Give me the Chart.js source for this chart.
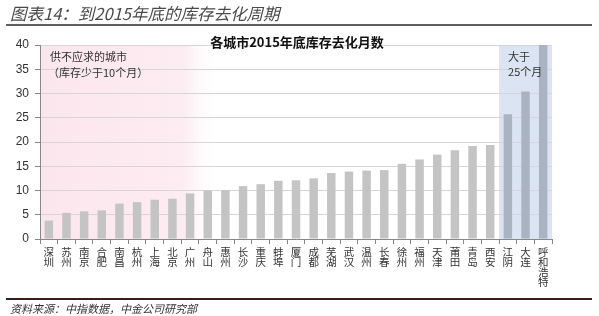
<!DOCTYPE html>
<html><head><meta charset="utf-8">
<script src="https://cdn.jsdelivr.net/npm/chart.js@4"></script>
<style>html,body{margin:0;padding:0;background:#fff;}#wrap{width:599px;height:316px;}</style>
</head><body><div id="wrap"><canvas id="c" width="599" height="316"></canvas></div>
<script>
const cities = ["深圳","苏州","南京","合肥","南昌","杭州","上海","北京","广州","舟山","惠州","长沙","重庆","蚌埠","厦门","成都","芜湖","武汉","温州","长春","徐州","福州","天津","莆田","青岛","西安","江阴","大连","呼和浩特"];
const months = [3.8,5.4,5.7,5.9,7.3,7.6,8.1,8.3,9.4,10.0,10.1,10.9,11.3,12.0,12.1,12.5,13.6,13.9,14.1,14.2,15.5,16.4,17.4,18.3,19.2,19.4,25.7,30.4,40.0];
const yTicks = [0,5,10,15,20,25,30,35,40];
const header = "图表14：到2015年底的库存去化周期";
const chartTitle = "各城市2015年底库存去化月数";
const source = "资料来源：中指数据，中金公司研究部";
const noteLow = ["供不应求的城市","（库存少于10个月）"];
const noteHigh = ["大于","25个月"];
const highStart = 26;
const lowEnd = 9;

const CJK = '"Noto Sans CJK SC", sans-serif';
const barColors = months.map((v,i)=> i>=highStart ? '#aab3c2' : '#c4c4c4');

const deco = {
  id:'deco',
  beforeDraw(chart){
    const {ctx, chartArea:a, scales:{x}} = chart;
    ctx.save();
    const pEnd = x.getPixelForValue(lowEnd) + 12;
    const g = ctx.createLinearGradient(a.left,0,pEnd,0);
    g.addColorStop(0,'rgba(252,230,237,1)');
    g.addColorStop(0.8,'rgba(252,234,240,0.9)');
    g.addColorStop(1,'rgba(255,255,255,0)');
    ctx.fillStyle = g;
    ctx.fillRect(a.left, a.top, pEnd - a.left, a.bottom - a.top);
    const half = (x.getPixelForValue(1)-x.getPixelForValue(0))/2;
    const bStart = x.getPixelForValue(highStart) - half;
    ctx.fillStyle = 'rgb(219,228,243)';
    ctx.fillRect(bStart, a.top, a.right - bStart, a.bottom - a.top);
    ctx.restore();
  },
  afterDraw(chart){
    const {ctx, chartArea:a, scales:{x}} = chart;
    ctx.save();
    ctx.fillStyle = '#4a4a4a';
    ctx.font = 'italic 16.5px ' + CJK;
    ctx.textBaseline = 'middle';
    ctx.textAlign = 'left';
    ctx.fillText(header, 10, 14);
    ctx.strokeStyle = '#2b2b2b';
    ctx.lineWidth = 1.5;
    ctx.beginPath(); ctx.moveTo(6,25); ctx.lineTo(592,25); ctx.stroke();
    ctx.fillStyle = '#111';
    ctx.font = 'bold 13px ' + CJK;
    ctx.textAlign = 'center';
    ctx.fillText(chartTitle, 297, 42);
    ctx.font = '11px ' + CJK;
    ctx.textAlign = 'left';
    ctx.fillStyle = '#333';
    ctx.fillText(noteLow[0], 50, 57);
    ctx.fillText(noteLow[1], 48, 73);
    const half = (x.getPixelForValue(1)-x.getPixelForValue(0))/2;
    const bStart = x.getPixelForValue(highStart) - half;
    ctx.fillText(noteHigh[0], bStart + 9, 57);
    ctx.fillText(noteHigh[1], bStart + 9, 72);
    ctx.strokeStyle = '#3a1c1c';
    ctx.lineWidth = 2;
    ctx.beginPath(); ctx.moveTo(6,299); ctx.lineTo(592,299); ctx.stroke();
    ctx.fillStyle = '#333';
    ctx.font = 'italic 11px ' + CJK;
    ctx.fillText(source, 10, 309);
    ctx.restore();
  }
};

new Chart(document.getElementById('c'), {
  type:'bar',
  data:{
    labels: cities.map(c => c.split('')),
    datasets:[{ data: months, backgroundColor: barColors, barPercentage:0.48, categoryPercentage:1.0 }]
  },
  options:{
    responsive:false,
    animation:false,
    devicePixelRatio:1,
    layout:{ padding:{ left:0, right:47, top:45, bottom:17 } },
    plugins:{ legend:{display:false}, tooltip:{enabled:false}, title:{display:false} },
    scales:{
      x:{
        grid:{ offset:true, drawOnChartArea:false, drawTicks:true, tickLength:5, color:'#888' },
        border:{ color:'#888', width:1 },
        ticks:{ autoSkip:false, maxRotation:0, minRotation:0, padding:3, color:'#333', font:{ family: CJK, size:10.5, lineHeight:0.95 } },
        afterFit(s){ s.height = 60; }
      },
      y:{
        min:0, max:40,
        afterBuildTicks(s){ s.ticks = yTicks.map(v=>({value:v})); },
        grid:{ color:'#d6d6d6', drawTicks:true, tickLength:5, tickColor:'#888' },
        border:{ color:'#888', width:1 },
        ticks:{ color:'#333', padding:6, font:{ family:'"Liberation Sans", Arial, sans-serif', size:12 } },
        afterFit(s){ s.width = 40; }
      }
    }
  },
  plugins:[deco]
});
</script>
</body></html>
